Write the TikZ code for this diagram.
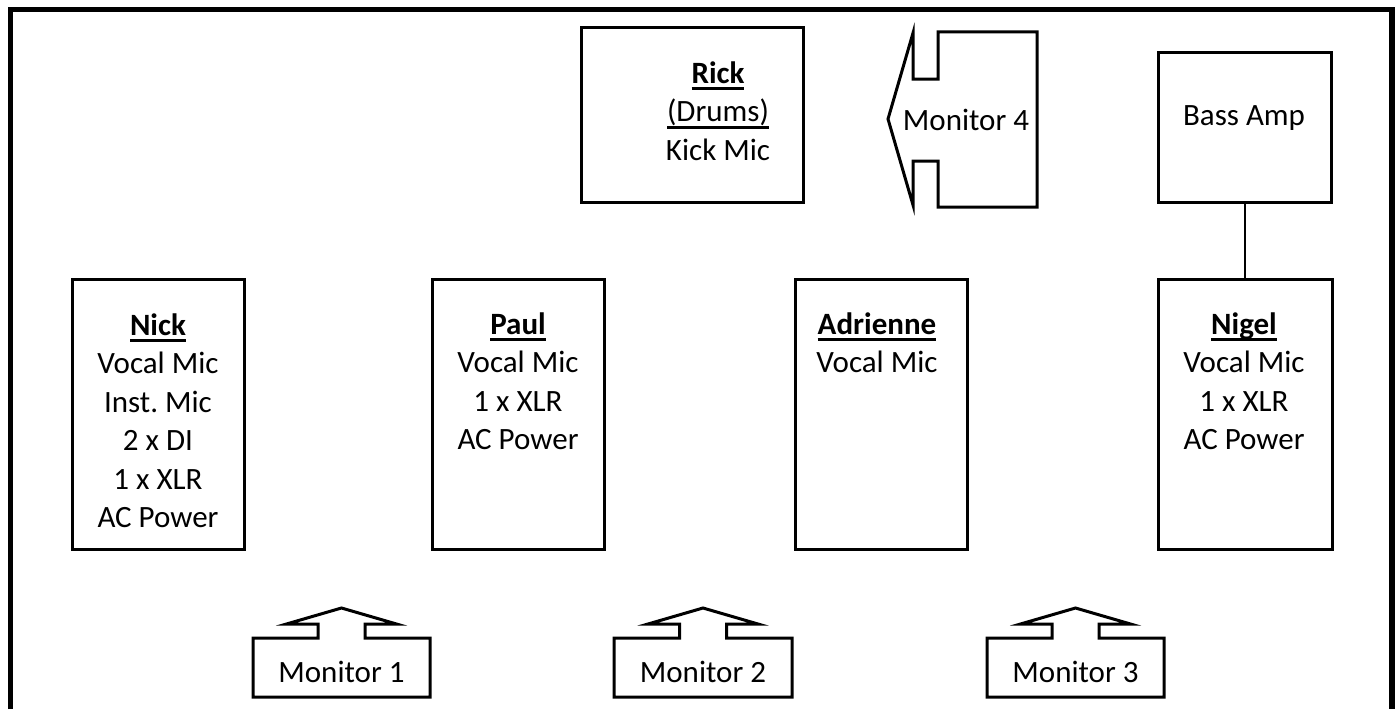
\documentclass[tikz,border=0pt]{standalone}
\usepackage{fontspec}
\setmainfont{Carlito}
\frenchspacing
\newcommand\myul[1]{\setbox0\hbox{#1}\leavevmode\rlap{\rule[-7pt]{\wd0}{2.8pt}}\box0}
\newcommand\stacklines[1]{\vtop{\halign{\hfil##\hfil\cr#1\crcr}}}
\newcommand\fs{\fontsize{31}{38.5}\selectfont\frenchspacing}
\tikzset{
  box/.style={draw, line width=3pt, inner sep=0pt, line join=miter},
  txt/.style={font=\fs, inner sep=0pt, anchor=base},
  mon/.style={draw, line width=3pt, line join=miter},
  link/.style={draw, line width=2pt}
}
\newcommand\monup[4]{%
  \begin{scope}[shift={(#2,0)}]
    \draw[mon] (-#3,697) -- (-#3,638) -- (-23.5,638) -- (-23.5,624) -- (-55,624) -- (0,608)
      -- (55,624) -- (23.5,624) -- (23.5,638) -- (#3,638) -- (#3,697) -- cycle;
    \node[txt] (#1) at (0,682) {#4};
  \end{scope}}
\begin{document}
\begin{tikzpicture}[x=1pt,y=-1pt]
\useasboundingbox (0,0) rectangle (1396,709);
\fill[white] (0,0) rectangle (1396,709);
% outer frame
\draw[line width=5.5pt, line join=miter] (10.5,709) -- (10.5,9.5) -- (1392,9.5) -- (1392,709);

% Rick
\node[box, minimum width=222pt, minimum height=174pt] (rick) at (692,115) {};
\node[txt] (rickt) at (718,83) {\stacklines{\myul{\bfseries Rick}\cr \myul{(Drums)}\cr Kick Mic}};

% Monitor 4
\draw[mon] (938,32) -- (1037,32) -- (1037,207) -- (938,207) -- (938,161) -- (913,161)
  -- (913,205) -- (888,119) -- (913,33) -- (913,79) -- (938,79) -- cycle;
\node[txt] (mon4) at (966,130) {Monitor 4};

% Bass amp
\node[box, minimum width=173pt, minimum height=149pt] (bass) at (1245,127.5) {};
\node[txt] (basst) at (1244,125) {Bass Amp};

% Musicians
\node[box, minimum width=172pt, minimum height=270pt] (nick) at (158,414) {};
\node[txt] (nickt) at (158,335) {\stacklines{\myul{\bfseries Nick}\cr Vocal Mic\cr Inst. Mic\cr 2 x DI\cr 1 x XLR\cr AC Power}};

\node[box, minimum width=172pt, minimum height=270pt] (paul) at (518,414) {};
\node[txt] (pault) at (518,334) {\stacklines{\myul{\bfseries Paul}\cr Vocal Mic\cr 1 x XLR\cr AC Power}};

\node[box, minimum width=172pt, minimum height=270pt] (adrienne) at (881,414) {};
\node[txt] (adriennet) at (877,334) {\stacklines{\myul{\bfseries Adrienne}\cr Vocal Mic}};

\node[box, minimum width=174pt, minimum height=270pt] (nigel) at (1245,414) {};
\node[txt] (nigelt) at (1244,334) {\stacklines{\myul{\bfseries Nigel}\cr Vocal Mic\cr 1 x XLR\cr AC Power}};

\draw[link] (bass.south) -- (nigel.north);

% Floor monitors
\monup{mon1}{341.5}{88.5}{Monitor 1}
\monup{mon2}{703}{89}{Monitor 2}
\monup{mon3}{1075.5}{88.5}{Monitor 3}
\end{tikzpicture}
\end{document}
